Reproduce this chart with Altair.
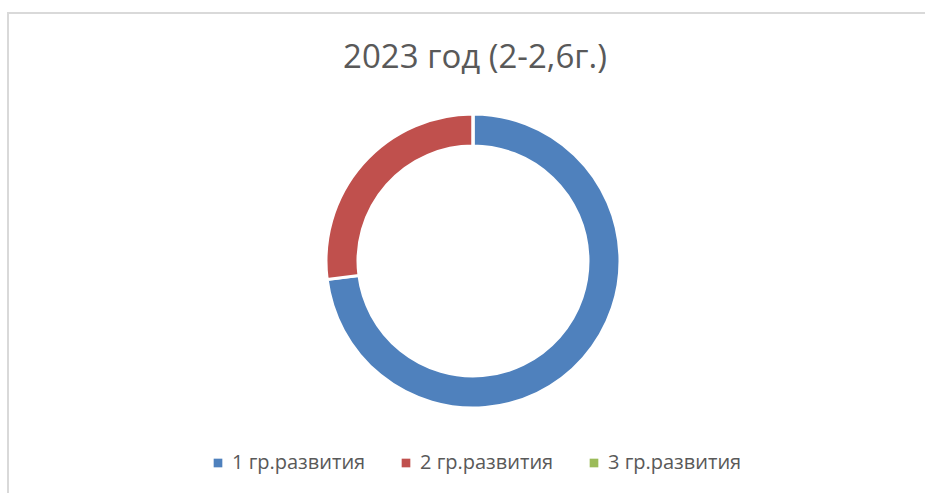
import altair as alt
import pandas as pd

categories = ["1 гр.развития", "2 гр.развития", "3 гр.развития"]
values = [73, 27, 0]
colors = ["#4F81BD", "#C0504D", "#9BBB59"]
title_text = "2023 год (2-2,6г.)"

df = pd.DataFrame({"cat": categories, "val": values, "ord": [0, 1, 2]})

color_scale = alt.Scale(domain=categories, range=colors)

arcs = alt.Chart(df).mark_arc(
    outerRadius=147, innerRadius=115, stroke="white", strokeWidth=3
).encode(
    theta=alt.Theta("val:Q", stack=True),
    order=alt.Order("ord:Q"),
    color=alt.Color(
        "cat:N",
        scale=color_scale,
        legend=alt.Legend(
            title=None,
            orient="none",
            legendX=208,
            legendY=453,
            direction="horizontal",
            symbolType="square",
            symbolSize=75,
            symbolStrokeWidth=0,
            labelFont="Open Sans",
            labelFontSize=20,
            labelColor="#595959",
            labelOffset=4,
            columnPadding=30,
            labelLimit=300,
        ),
    ),
    x=alt.value(473),
    y=alt.value(261),
)

title = alt.Chart(pd.DataFrame({"t": [title_text]})).mark_text(
    font="Open Sans", fontSize=33, color="#595959", baseline="alphabetic", align="center"
).encode(text="t:N", x=alt.value(475), y=alt.value(68))

border = alt.Chart(pd.DataFrame({"a": [0]})).mark_rect(
    fill=None, stroke="#d9d9d9", strokeWidth=2
).encode(x=alt.value(8), y=alt.value(13), x2=alt.value(940), y2=alt.value(510))

chart = alt.layer(border, arcs, title).properties(
    width=925, height=493, autosize=alt.AutoSizeParams(type="none"), padding=0
).configure_view(stroke=None)

chart.save("out.html", embed_options={"renderer": "svg", "actions": False})
